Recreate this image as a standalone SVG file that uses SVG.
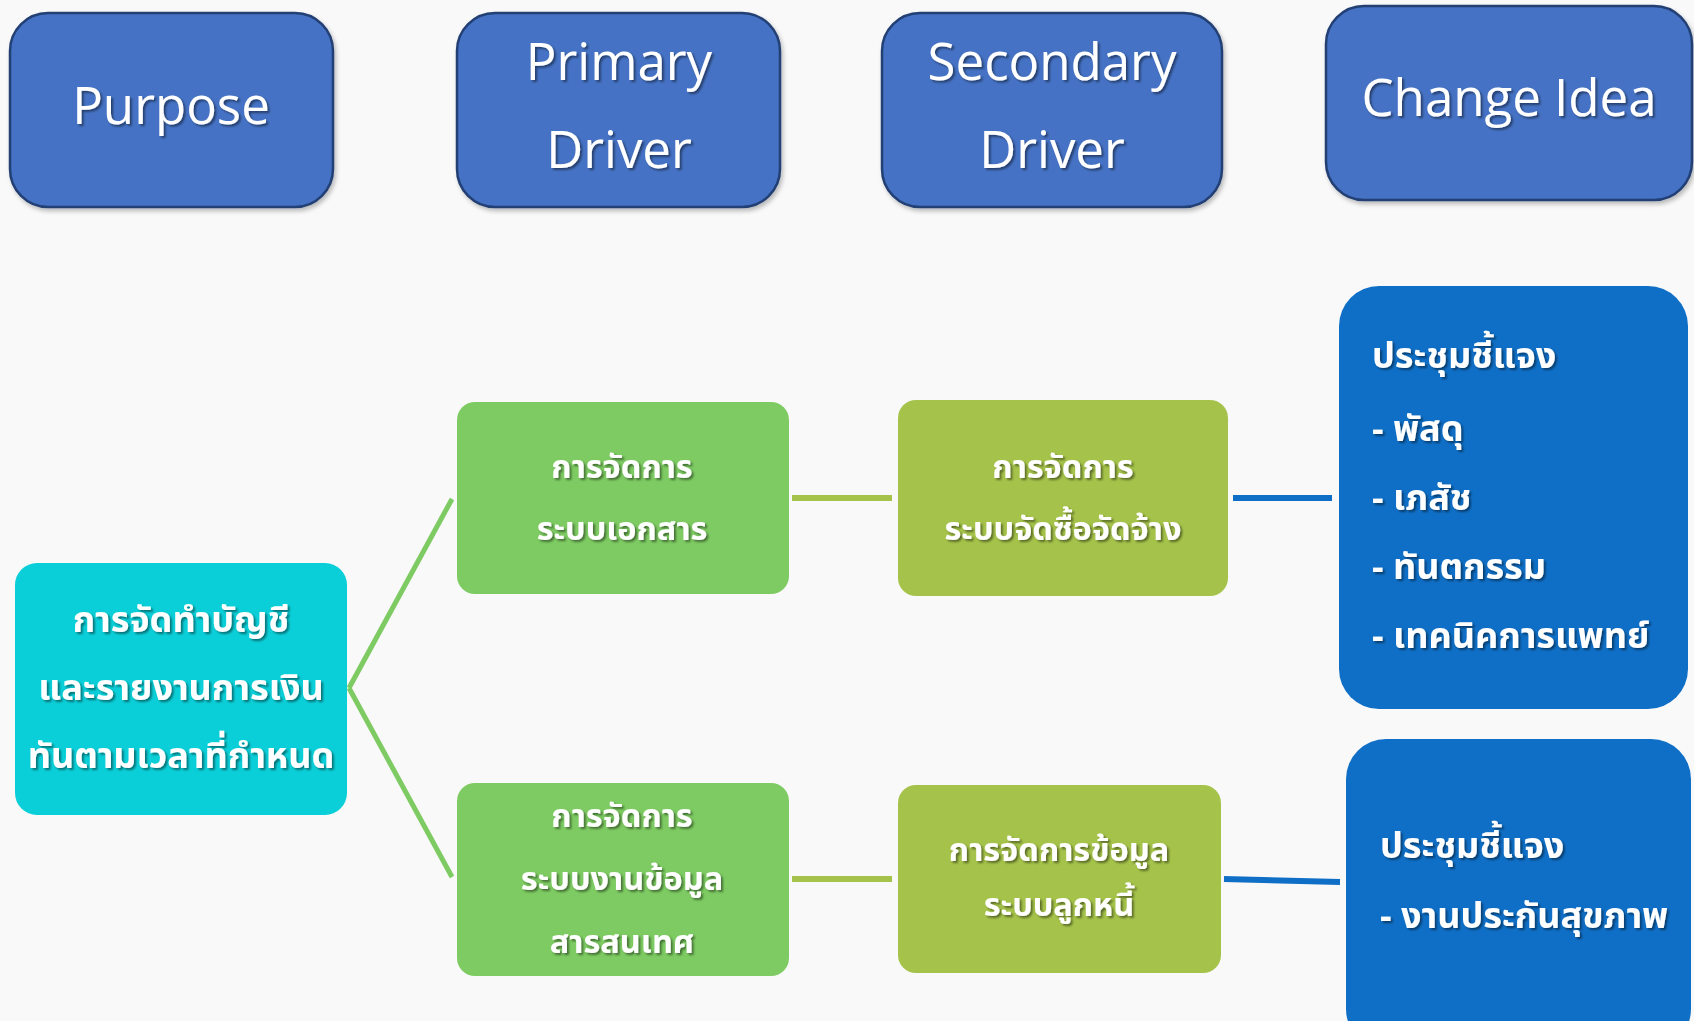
<svg xmlns="http://www.w3.org/2000/svg" width="1694" height="1021" viewBox="0 0 1694 1021">
  <defs>
    <filter id="ts" x="-10%" y="-30%" width="130%" height="160%">
      <feDropShadow dx="2" dy="2" stdDeviation="1" flood-color="#000" flood-opacity="0.45"/>
    </filter>
    <filter id="bs" x="-5%" y="-5%" width="115%" height="115%">
      <feDropShadow dx="2" dy="3" stdDeviation="2" flood-color="#000" flood-opacity="0.25"/>
    </filter>
  </defs>
  <style>
    .hdr { fill: #4472C4; stroke: #223F73; stroke-width: 2.5; }
    .hdrt { font-family: "Open Sans", "Noto Sans", sans-serif; font-size: 51px; fill: #ffffff; text-anchor: middle; }
    .th { font-family: "Noto Sans Thai", "Noto Sans Thai UI", "Noto Sans", "DejaVu Sans", sans-serif; font-size: 36px; font-weight: bold; fill: #ffffff; }
    .sm { font-size: 32.5px; }
    .mid { text-anchor: middle; }
    .purpose { fill: #0BCFD8; }
    .prim { fill: #7DCB62; }
    .sec { fill: #A5C34A; }
    .chg { fill: #0F6FC6; }
    .c-green { stroke: #7DCB62; stroke-width: 5; fill: none; }
    .c-olive { stroke: #A5C34A; stroke-width: 6; fill: none; }
    .c-blue { stroke: #0F6FC6; stroke-width: 6; fill: none; }
  </style>
  <rect width="1694" height="1021" fill="#F9F9F9"/>

  <g id="connectors">
    <line class="c-green" x1="349" y1="688" x2="452" y2="499"/>
    <line class="c-green" x1="349" y1="688" x2="452" y2="877"/>
    <line class="c-olive" x1="792" y1="498" x2="892" y2="498"/>
    <line class="c-olive" x1="792" y1="879" x2="892" y2="879"/>
    <line class="c-blue" x1="1233" y1="498" x2="1332" y2="498"/>
    <line class="c-blue" x1="1224" y1="879" x2="1340" y2="882"/>
  </g>

  <g id="hdr-purpose">
    <rect class="hdr" x="10" y="13" width="323" height="194" rx="38" filter="url(#bs)"/>
    <text class="hdrt" x="171" y="124" filter="url(#ts)">Purpose</text>
  </g>
  <g id="hdr-primary">
    <rect class="hdr" x="457" y="13" width="323" height="194" rx="38" filter="url(#bs)"/>
    <text class="hdrt" x="619" y="80" filter="url(#ts)">Primary</text>
    <text class="hdrt" x="619" y="168" filter="url(#ts)">Driver</text>
  </g>
  <g id="hdr-secondary">
    <rect class="hdr" x="882" y="13" width="340" height="194" rx="38" filter="url(#bs)"/>
    <text class="hdrt" x="1052" y="80" filter="url(#ts)">Secondary</text>
    <text class="hdrt" x="1052" y="168" filter="url(#ts)">Driver</text>
  </g>
  <g id="hdr-change">
    <rect class="hdr" x="1326" y="6" width="366" height="194" rx="38" filter="url(#bs)"/>
    <text class="hdrt" x="1509" y="116" filter="url(#ts)">Change Idea</text>
  </g>

  <g id="purpose">
    <rect class="purpose" x="15" y="563" width="332" height="252" rx="22"/>
    <text class="th mid" x="181" y="632" filter="url(#ts)">การจัดทำบัญชี</text>
    <text class="th mid" x="181" y="700" filter="url(#ts)">และรายงานการเงิน</text>
    <text class="th mid" x="181" y="768" filter="url(#ts)">ทันตามเวลาที่กำหนด</text>
  </g>

  <g id="primary-1">
    <rect class="prim" x="457" y="402" width="332" height="192" rx="18"/>
    <text class="th sm mid" x="622" y="478" filter="url(#ts)">การจัดการ</text>
    <text class="th sm mid" x="622" y="540" filter="url(#ts)">ระบบเอกสาร</text>
  </g>
  <g id="primary-2">
    <rect class="prim" x="457" y="783" width="332" height="193" rx="18"/>
    <text class="th sm mid" x="622" y="827" filter="url(#ts)">การจัดการ</text>
    <text class="th sm mid" x="622" y="890" filter="url(#ts)">ระบบงานข้อมูล</text>
    <text class="th sm mid" x="622" y="953" filter="url(#ts)">สารสนเทศ</text>
  </g>

  <g id="secondary-1">
    <rect class="sec" x="898" y="400" width="330" height="196" rx="18"/>
    <text class="th sm mid" x="1063" y="478" filter="url(#ts)">การจัดการ</text>
    <text class="th sm mid" x="1063" y="540" filter="url(#ts)">ระบบจัดซื้อจัดจ้าง</text>
  </g>
  <g id="secondary-2">
    <rect class="sec" x="898" y="785" width="323" height="188" rx="18"/>
    <text class="th sm mid" x="1059" y="861" filter="url(#ts)">การจัดการข้อมูล</text>
    <text class="th sm mid" x="1059" y="916" filter="url(#ts)">ระบบลูกหนี้</text>
  </g>

  <g id="change-1">
    <rect class="chg" x="1339" y="286" width="349" height="423" rx="40"/>
    <text class="th" x="1372" y="368" filter="url(#ts)">ประชุมชี้แจง</text>
    <text class="th" x="1372" y="441" filter="url(#ts)">- พัสดุ</text>
    <text class="th" x="1372" y="510" filter="url(#ts)">- เภสัช</text>
    <text class="th" x="1372" y="579" filter="url(#ts)">- ทันตกรรม</text>
    <text class="th" x="1372" y="648" filter="url(#ts)">- เทคนิคการแพทย์</text>
  </g>
  <g id="change-2">
    <rect class="chg" x="1346" y="739" width="345" height="310" rx="40"/>
    <text class="th" x="1380" y="858" filter="url(#ts)">ประชุมชี้แจง</text>
    <text class="th" x="1380" y="928" filter="url(#ts)">- งานประกันสุขภาพ</text>
  </g>
</svg>
